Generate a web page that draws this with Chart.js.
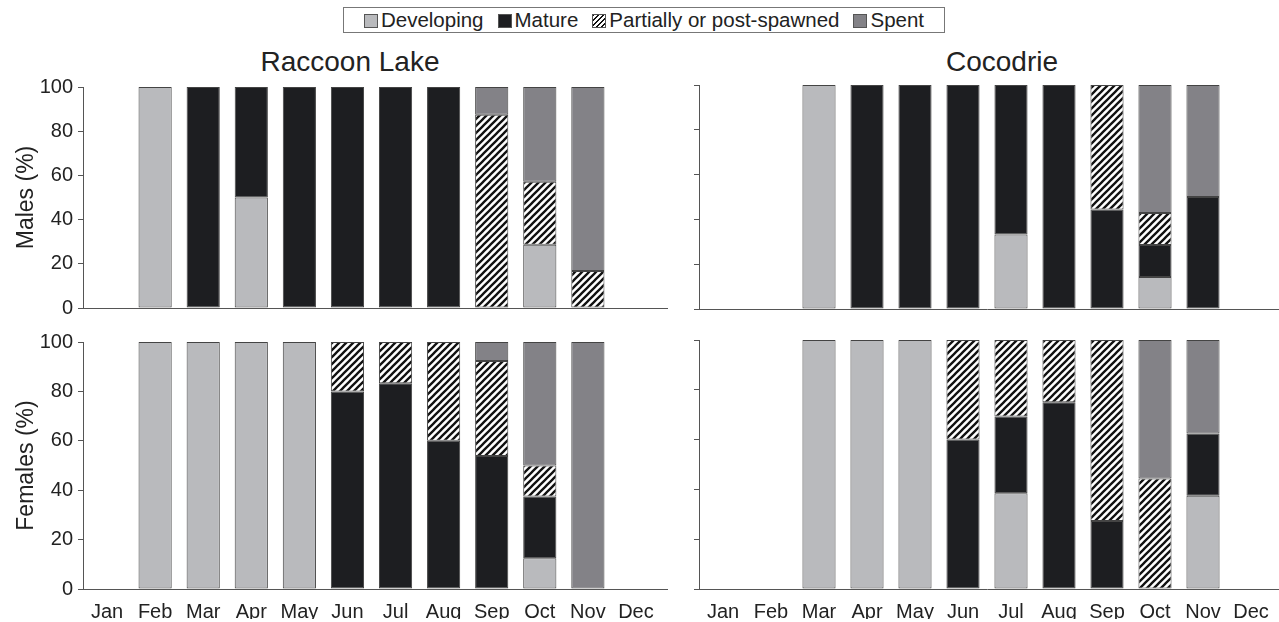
<!DOCTYPE html>
<html>
<head>
<meta charset="utf-8">
<script src="https://cdn.jsdelivr.net/npm/chart.js@4"></script>
<style>
  body { margin: 0; width: 1279px; height: 622px; background: #fff; position: relative; overflow: hidden;
         font-family: "Liberation Sans", Arial, sans-serif; color: #222; }
  .box { position: absolute; }
  .title { position: absolute; font-size: 28px; transform: translateX(-50%); white-space: nowrap; }
  #legend { position: absolute; left: 343px; top: 7px; width: 600px; height: 24px; border: 1px solid #777;
            display: flex; align-items: center; justify-content: center; font-size: 20.5px; gap: 14px; }
  #legend span.sw { display: inline-block; width: 12px; height: 12px; border: 1px solid #555; margin-right: 3px; vertical-align: -1px; }
</style>
</head>
<body>
<div id="legend"></div>
<div class="title" style="left:350px; top:46px;">Raccoon Lake</div>
<div class="title" style="left:1002px; top:46px;">Cocodrie</div>
<div class="box" style="left:0; top:70px; width:672px; height:255px;"><canvas id="rlMales"></canvas></div>
<div class="box" style="left:640px; top:70px; width:639px; height:255px;"><canvas id="coMales"></canvas></div>
<div class="box" style="left:0; top:325px; width:672px; height:297px;"><canvas id="rlFemales"></canvas></div>
<div class="box" style="left:640px; top:325px; width:639px; height:297px;"><canvas id="coFemales"></canvas></div>
<script>
// Month categories and stage names
const months = ['Jan', 'Feb', 'Mar', 'Apr', 'May', 'Jun', 'Jul', 'Aug', 'Sep', 'Oct', 'Nov', 'Dec'];
const stages = ['Developing', 'Mature', 'Partially or post-spawned', 'Spent'];
const yTicks = [0, 20, 40, 60, 80, 100];

// Raccoon Lake males (%)
const rlMaleDeveloping = [null, 100, null, 50, null, null, null, null, null, 28.6, null, null];
const rlMaleMature     = [null, null, 100, 50, 100, 100, 100, 100, null, null, null, null];
const rlMalePartial    = [null, null, null, null, null, null, null, null, 87.5, 28.5, 16.7, null];
const rlMaleSpent      = [null, null, null, null, null, null, null, null, 12.5, 42.9, 83.3, null];

// Cocodrie males (%)
const coMaleDeveloping = [null, null, 100, null, null, null, 33.3, null, null, 14.3, null, null];
const coMaleMature     = [null, null, null, 100, 100, 100, 66.7, 100, 44.4, 14.3, 50, null];
const coMalePartial    = [null, null, null, null, null, null, null, null, 55.6, 14.3, null, null];
const coMaleSpent      = [null, null, null, null, null, null, null, null, null, 57.1, 50, null];

// Raccoon Lake females (%)
const rlFemaleDeveloping = [null, 100, 100, 100, 100, null, null, null, null, 12.5, null, null];
const rlFemaleMature     = [null, null, null, null, null, 80, 83.3, 60, 53.8, 25, null, null];
const rlFemalePartial    = [null, null, null, null, null, 20, 16.7, 40, 38.5, 12.5, null, null];
const rlFemaleSpent      = [null, null, null, null, null, null, null, null, 7.7, 50, 100, null];

// Cocodrie females (%)
const coFemaleDeveloping = [null, null, 100, 100, 100, null, 38.5, null, null, null, 37.5, null];
const coFemaleMature     = [null, null, null, null, null, 60, 30.8, 75, 27.3, null, 25, null];
const coFemalePartial    = [null, null, null, null, null, 40, 30.7, 25, 72.7, 44.4, null, null];
const coFemaleSpent      = [null, null, null, null, null, null, null, null, null, 55.6, 37.5, null];

// hatch pattern for the partially spawned stage
function makeHatch() {
    const c = document.createElement('canvas');
    c.width = 7; c.height = 7;
    const g = c.getContext('2d');
    g.fillStyle = '#fff';
    g.fillRect(0, 0, 7, 7);
    g.strokeStyle = '#111';
    g.lineWidth = 2.3;
    g.beginPath();
    g.moveTo(-2, 9); g.lineTo(9, -2);
    g.moveTo(-2, 2); g.lineTo(2, -2);
    g.moveTo(5, 9); g.lineTo(9, 5);
    g.stroke();
    return g.createPattern(c, 'repeat');
}
const hatch = makeHatch();
const stageColors = ['#b9babd', '#1d1e21', hatch, '#838287'];

// legend built as html
const legend = document.getElementById('legend');
const swatchCss = ['background:#b9babd', 'background:#1d1e21',
    'background:repeating-linear-gradient(-45deg,#fff 0 2px,#111 2px 3.5px)', 'background:#838287'];
stages.forEach((s, i) => {
    const item = document.createElement('span');
    item.innerHTML = '<span class="sw" style="' + swatchCss[i] + '"></span>' + s;
    legend.appendChild(item);
});

// draws the x axis line a little past the last category
const axisExt = {
    id: 'axisExt',
    afterDraw(chart, args, opts) {
        const a = chart.chartArea, ctx = chart.ctx;
        ctx.save();
        ctx.strokeStyle = '#555';
        ctx.lineWidth = 1;
        ctx.beginPath();
        ctx.moveTo(a.right, a.bottom + 0.5);
        ctx.lineTo(a.right + opts.len, a.bottom + 0.5);
        ctx.stroke();
        ctx.restore();
    }
};

function makeChart(id, series, o) {
    new Chart(document.getElementById(id), {
        type: 'bar',
        data: {
            labels: months,
            datasets: series.map((d, i) => ({
                label: stages[i],
                data: d,
                backgroundColor: stageColors[i],
                borderColor: '#444',
                borderWidth: 1,
                borderSkipped: false,
                barPercentage: 0.69,
                categoryPercentage: 1
            }))
        },
        plugins: [axisExt],
        options: {
            responsive: true,
            maintainAspectRatio: false,
            animation: false,
            layout: { padding: { top: 15, right: o.right, bottom: o.bottom, left: 0 } },
            plugins: {
                legend: { display: false },
                tooltip: { enabled: false },
                axisExt: { len: o.ext }
            },
            scales: {
                x: {
                    stacked: true,
                    grid: { display: false },
                    border: { display: true, color: '#555', width: 1 },
                    ticks: {
                        display: o.xLabels,
                        color: '#222',
                        padding: 3,
                        maxRotation: 0,
                        autoSkip: false,
                        font: { family: 'Liberation Sans', size: 20 }
                    },
                    afterFit: s => { s.height = o.xLabels ? 30 : 0; }
                },
                y: {
                    stacked: true,
                    min: 0,
                    max: 100,
                    afterBuildTicks: s => { s.ticks = yTicks.map(v => ({ value: v })); },
                    grid: { drawOnChartArea: false, color: '#555', tickLength: 5 },
                    border: { display: true, color: '#555', width: 1 },
                    ticks: {
                        display: o.yLabels,
                        color: '#222',
                        padding: 5,
                        font: { family: 'Liberation Sans', size: 20 }
                    },
                    title: {
                        display: !!o.yTitle,
                        text: o.yTitle || '',
                        color: '#222',
                        padding: { top: 13, bottom: 0 },
                        font: { family: 'Liberation Sans', size: 23 }
                    },
                    afterFit: s => { s.width = o.yWidth; }
                }
            }
        }
    });
}

makeChart('rlMales', [rlMaleDeveloping, rlMaleMature, rlMalePartial, rlMaleSpent],
    { right: 12, bottom: 16, ext: 8, xLabels: false, yLabels: true, yTitle: 'Males (%)', yWidth: 83 });
makeChart('coMales', [coMaleDeveloping, coMaleMature, coMalePartial, coMaleSpent],
    { right: 4, bottom: 16, ext: 4, xLabels: false, yLabels: false, yWidth: 59 });
makeChart('rlFemales', [rlFemaleDeveloping, rlFemaleMature, rlFemalePartial, rlFemaleSpent],
    { right: 12, bottom: 3, ext: 8, xLabels: true, yLabels: true, yTitle: 'Females (%)', yWidth: 83 });
makeChart('coFemales', [coFemaleDeveloping, coFemaleMature, coFemalePartial, coFemaleSpent],
    { right: 4, bottom: 3, ext: 4, xLabels: true, yLabels: false, yWidth: 59 });
</script>
</body>
</html>
